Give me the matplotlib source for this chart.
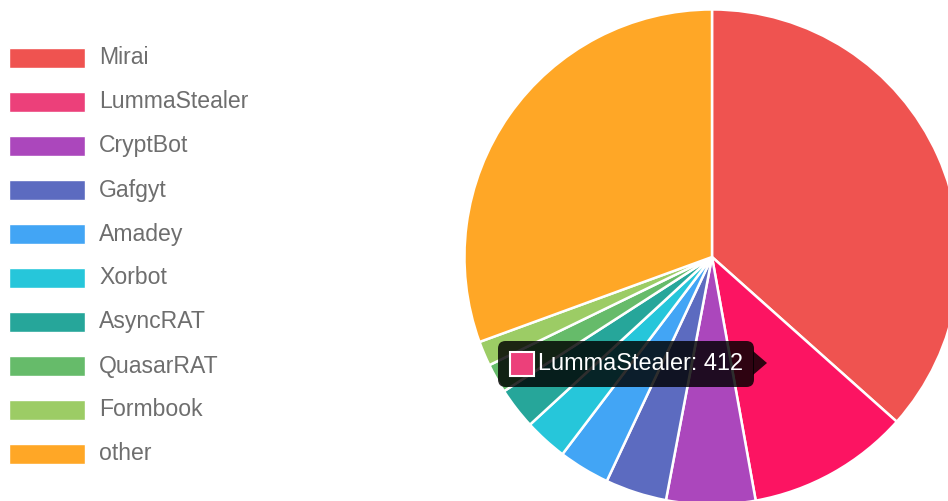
import matplotlib.pyplot as plt
from matplotlib.patches import FancyBboxPatch, Rectangle, Polygon

plt.rcParams['font.family'] = ['Liberation Sans', 'DejaVu Sans']

labels = ['Mirai', 'LummaStealer', 'CryptBot', 'Gafgyt', 'Amadey',
          'Xorbot', 'AsyncRAT', 'QuasarRAT', 'Formbook', 'other']
values = [1424, 412, 226, 156, 130, 110, 106, 75, 63, 1190]
colors = ['#ef5350', '#ec407a', '#ab47bc', '#5c6bc0', '#42a5f5',
          '#26c6da', '#26a69a', '#66bb6a', '#9ccc65', '#ffa726']
hovered = 1
hover_color = '#fc1462'

W, H = 948, 502
fig = plt.figure(figsize=(W / 100, H / 100), dpi=100)


def fx(x):
    return x / W


def fy(y):
    return 1 - y / H


# pie, centre (712, 258) px, radius 250 px - runs off the right/bottom edge
cx, cy, r = 712, 258, 250
ax = fig.add_axes([fx(cx - r), fy(cy + r), 2 * r / W, 2 * r / H])
slice_colors = list(colors)
slice_colors[hovered] = hover_color
ax.pie(values, colors=slice_colors, startangle=90, counterclock=False,
       radius=1, wedgeprops={'edgecolor': 'white', 'linewidth': 1.8})
ax.set_xlim(-1.01, 1.01)
ax.set_ylim(-1.01, 1.01)
ax.set_aspect('equal')
ax.axis('off')

# legend on the left
for i, (lab, col) in enumerate(zip(labels, colors)):
    yc = 59 + i * 44
    fig.add_artist(Rectangle((fx(9), fy(yc + 10)), 76 / W, 20 / H,
                             facecolor=col, edgecolor='white', linewidth=1,
                             transform=fig.transFigure))
    fig.text(fx(99), fy(yc - 1), lab, color='#6e6e6e', fontsize=16.6,
             va='center', ha='left')

# hover tooltip
tip = FancyBboxPatch((fx(498), fy(388)), (754 - 498) / W, 46 / H,
                     boxstyle='round,pad=0,rounding_size=0.008',
                     facecolor='black', alpha=0.82, edgecolor='none',
                     transform=fig.transFigure, mutation_aspect=W / H)
fig.add_artist(tip)
fig.add_artist(Polygon([(fx(753), fy(352)), (fx(767), fy(364)), (fx(753), fy(376))],
                       closed=True, facecolor='black', alpha=0.82,
                       edgecolor='none', transform=fig.transFigure))
fig.add_artist(Rectangle((fx(510), fy(377)), 24 / W, 24 / H,
                         facecolor=colors[hovered], edgecolor='white',
                         linewidth=1.5, transform=fig.transFigure))
fig.text(fx(538), fy(364), f'{labels[hovered]}: {values[hovered]}',
         color='white', fontsize=16.9, va='center', ha='left')

fig.savefig('out.png', dpi=100)
